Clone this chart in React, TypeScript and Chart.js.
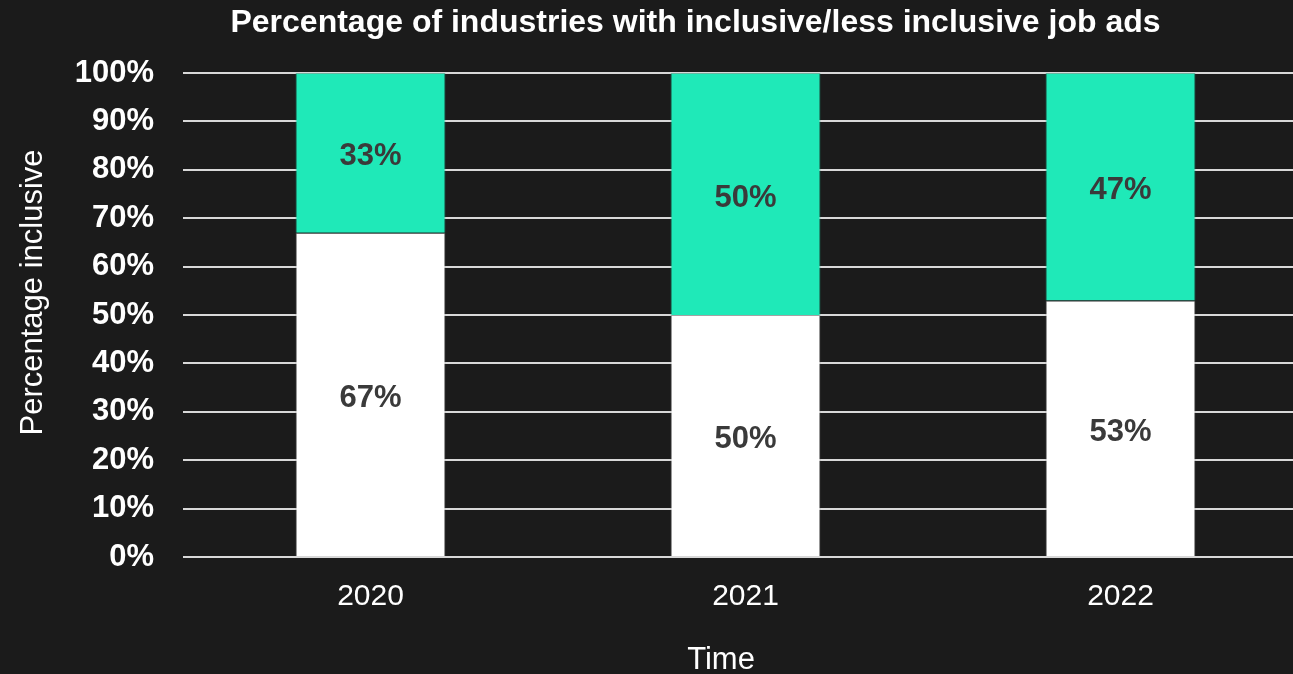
import React, { useEffect, useRef } from "react";
import { Chart, registerables } from "chart.js";

Chart.register(...registerables);

const categories = ["2020", "2021", "2022"];
const inclusiveValues = [67, 50, 53];
const lessInclusiveValues = [33, 50, 47];
const seriesNames = ["Inclusive", "Less inclusive"];
const chartTitle = "Percentage of industries with inclusive/less inclusive job ads";
const xAxisTitle = "Time";
const yAxisTitle = "Percentage inclusive";

const FONT = "'Liberation Sans', Arial, Helvetica, sans-serif";
const BG = "#1b1b1b";
const TEAL = "#1fe9b8";

const barLabels = {
  id: "barLabels",
  afterDatasetsDraw(chart: any) {
    const ctx = chart.ctx;
    ctx.save();
    ctx.font = `bold 31px ${FONT}`;
    ctx.fillStyle = "#3a3a3a";
    ctx.textAlign = "center";
    ctx.textBaseline = "middle";
    chart.data.datasets.forEach((ds: any, i: number) => {
      const meta = chart.getDatasetMeta(i);
      meta.data.forEach((el: any, j: number) => {
        const p = el.getCenterPoint();
        ctx.fillText(`${ds.data[j]}%`, p.x, p.y + 4);
      });
    });
    ctx.restore();
  },
};

const titles = {
  id: "titles",
  afterDraw(chart: any) {
    const ctx = chart.ctx;
    ctx.save();
    ctx.fillStyle = "#ffffff";
    ctx.textAlign = "center";
    ctx.textBaseline = "alphabetic";
    ctx.font = `bold 32px ${FONT}`;
    ctx.fillText(chartTitle, 695.5, 32);
    ctx.font = `31px ${FONT}`;
    ctx.fillText(xAxisTitle, 721, 669);
    ctx.translate(41.5, 292.5);
    ctx.rotate(-Math.PI / 2);
    ctx.font = `31px ${FONT}`;
    ctx.fillText(yAxisTitle, 0, 0);
    ctx.restore();
  },
};

export default function App() {
  const ref = useRef<HTMLCanvasElement | null>(null);

  useEffect(() => {
    if (!ref.current) return;
    const chart = new Chart(ref.current, {
      type: "bar",
      data: {
        labels: categories,
        datasets: [
          {
            label: seriesNames[0],
            data: inclusiveValues,
            backgroundColor: "#ffffff",
            borderColor: "rgba(110,110,110,0.5)",
            borderWidth: 1,
            barPercentage: 0.4,
            categoryPercentage: 1,
          },
          {
            label: seriesNames[1],
            data: lessInclusiveValues,
            backgroundColor: TEAL,
            borderColor: "rgba(30,160,125,0.6)",
            borderWidth: 1,
            barPercentage: 0.4,
            categoryPercentage: 1,
          },
        ],
      },
      options: {
        responsive: false,
        animation: false,
        devicePixelRatio: 1,
        layout: { padding: { top: 73, right: 2, left: 0, bottom: 0 } },
        plugins: {
          legend: { display: false },
          tooltip: { enabled: false },
          title: { display: false },
        },
        scales: {
          x: {
            stacked: true,
            grid: { display: false, drawTicks: false },
            border: { display: false },
            ticks: {
              color: "#ffffff",
              font: { family: FONT, size: 30 },
              padding: 22,
            },
            afterFit: (s: any) => {
              s.height = 117;
            },
          },
          y: {
            stacked: true,
            min: 0,
            max: 100,
            grid: { color: "#d8d8d8", lineWidth: 2, drawTicks: false },
            border: { display: false },
            ticks: {
              stepSize: 10,
              color: "#ffffff",
              font: { family: FONT, size: 31, weight: "bold" },
              padding: 29,
              callback: (v: any) => `${v}%`,
            },
            afterFit: (s: any) => {
              s.width = 183;
            },
          },
        },
      },
      plugins: [barLabels, titles],
    });
    return () => chart.destroy();
  }, []);

  return (
    <div
      style={{
        position: "fixed",
        left: 0,
        top: 0,
        width: 1293,
        height: 674,
        overflow: "hidden",
        background: BG,
      }}
    >
      <canvas ref={ref} width={1310} height={674} style={{ display: "block" }} />
    </div>
  );
}
